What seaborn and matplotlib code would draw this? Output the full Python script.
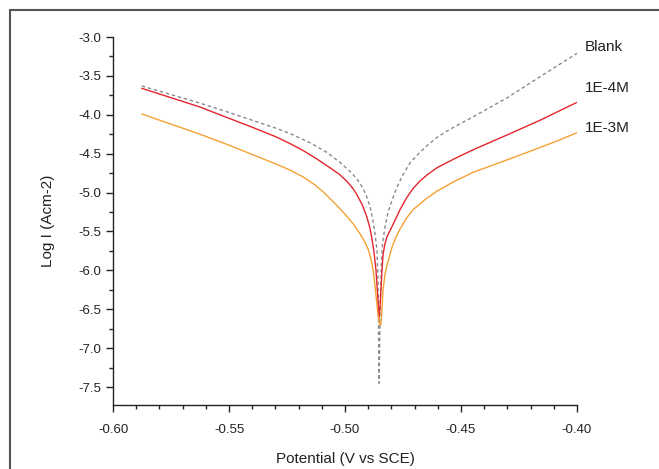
import numpy as np
import pandas as pd
import matplotlib
matplotlib.use('Agg')
import matplotlib.pyplot as plt
from matplotlib.ticker import MultipleLocator, FormatStrFormatter
from matplotlib.lines import Line2D
import seaborn as sns

# Tafel curves (potential in V vs SCE, log I)
blank_x = [-0.5876, -0.5750, -0.5625, -0.5500, -0.5400, -0.5300, -0.5237, -0.5150, -0.5080,
           -0.5022, -0.4970, -0.4935, -0.4910, -0.4892, -0.4880, -0.4871, -0.4862, -0.4858,
           -0.4856, -0.4853,
           -0.4849, -0.4846, -0.4843, -0.4838, -0.4828, -0.4815, -0.4795, -0.4776, -0.4750,
           -0.4720, -0.4680, -0.4640, -0.4603, -0.4550, -0.4500, -0.4450, -0.4300, -0.4159,
           -0.4000]
blank_y = [-3.63, -3.74, -3.85, -3.97, -4.07, -4.17, -4.24, -4.36, -4.48,
           -4.61, -4.75, -4.88, -5.02, -5.18, -5.35, -5.52, -5.74, -6.10,
           -6.47, -7.45,
           -6.60, -6.25, -5.90, -5.65, -5.45, -5.26, -5.08, -4.93, -4.77,
           -4.62, -4.49, -4.38, -4.29, -4.19, -4.11, -4.03, -3.78, -3.51,
           -3.21]

e4_x = [-0.5876, -0.5750, -0.5625, -0.5539, -0.5400, -0.5300, -0.5237, -0.5180, -0.5120,
        -0.5060, -0.5022, -0.4990, -0.4965, -0.4950, -0.4925, -0.4907, -0.4893, -0.4885,
        -0.4875, -0.4866, -0.4860, -0.4856, -0.4853,
        -0.4849, -0.4845, -0.4841, -0.4836, -0.4828, -0.4818, -0.4806, -0.4785, -0.4763,
        -0.4735, -0.4707, -0.4680, -0.4645, -0.4603, -0.4525, -0.4448, -0.4302, -0.4159,
        -0.4000]
e4_y = [-3.66, -3.78, -3.90, -4.00, -4.16, -4.28, -4.37, -4.46, -4.57,
        -4.69, -4.77, -4.86, -4.95, -5.02, -5.16, -5.30, -5.45, -5.57,
        -5.76, -6.01, -6.28, -6.48, -6.61,
        -6.47, -6.25, -6.03, -5.80, -5.66, -5.56, -5.49, -5.36, -5.22,
        -5.07, -4.95, -4.86, -4.77, -4.68, -4.56, -4.45, -4.26, -4.07,
        -3.84]

e3_x = [-0.5876, -0.5750, -0.5625, -0.5500, -0.5400, -0.5300, -0.5237, -0.5180, -0.5130,
        -0.5094, -0.5040, -0.4993, -0.4960, -0.4935, -0.4915, -0.4900, -0.4888, -0.4879,
        -0.4870, -0.4862, -0.4856, -0.4851, -0.4845,
        -0.4841, -0.4836, -0.4828, -0.4819, -0.4797, -0.4780, -0.4763, -0.4735, -0.4707,
        -0.4655, -0.4603, -0.4525, -0.4448, -0.4375, -0.4302, -0.4230, -0.4159, -0.4080,
        -0.4000]
e3_y = [-3.99, -4.12, -4.25, -4.39, -4.51, -4.63, -4.71, -4.80, -4.90,
        -4.99, -5.15, -5.30, -5.42, -5.53, -5.63, -5.73, -5.85, -5.99,
        -6.21, -6.45, -6.61, -6.69, -6.70,
        -6.52, -6.25, -6.06, -5.93, -5.70, -5.57, -5.47, -5.33, -5.22,
        -5.09, -4.98, -4.85, -4.74, -4.66, -4.58, -4.50, -4.42, -4.33,
        -4.23]

labels = ['Blank', '1E-4M', '1E-3M']
label_y = [-3.13, -3.66, -4.17]
colors = {'Blank': '#8a8a8a', '1E-4M': '#e3262e', '1E-3M': '#f5a033'}

df = pd.concat([
    pd.DataFrame({'E': blank_x, 'logI': blank_y, 'sample': 'Blank'}),
    pd.DataFrame({'E': e4_x, 'logI': e4_y, 'sample': '1E-4M'}),
    pd.DataFrame({'E': e3_x, 'logI': e3_y, 'sample': '1E-3M'}),
], ignore_index=True)

sns.set_style('ticks')
plt.rcParams['font.family'] = ['Liberation Sans', 'DejaVu Sans']

fig = plt.figure(figsize=(6.59, 4.69), dpi=100)
ax = fig.add_axes([0.1715, 0.1365, 0.704, 0.7846])

sns.lineplot(data=df, x='E', y='logI', hue='sample', style='sample',
             palette=colors, dashes={'Blank': (2.5, 2), '1E-4M': '', '1E-3M': ''},
             sort=False, estimator=None, units='sample', linewidth=1.0, legend=False, ax=ax)

for lab, yy in zip(labels, label_y):
    ax.text(-0.3965, yy, lab, fontsize=11, va='center', ha='left', color='#222222')

ax.set_xlim(-0.60, -0.40)
ax.set_ylim(-7.73, -3.0)
ax.xaxis.set_major_locator(MultipleLocator(0.05))
ax.xaxis.set_minor_locator(MultipleLocator(0.01))
ax.yaxis.set_major_locator(MultipleLocator(0.5))
ax.yaxis.set_minor_locator(MultipleLocator(0.25))
ax.xaxis.set_major_formatter(FormatStrFormatter('%.2f'))
ax.yaxis.set_major_formatter(FormatStrFormatter('%.1f'))
ax.tick_params(which='major', direction='out', length=5, width=1, labelsize=9.5, colors='#222222')
ax.tick_params(which='minor', direction='out', length=3, width=1, colors='#222222')
ax.tick_params(axis='x', which='major', pad=9)
ax.set_xlabel('Potential (V vs SCE)', fontsize=11, labelpad=11, color='#222222')
ax.set_ylabel('Log I (Acm-2)', fontsize=11, labelpad=17, color='#222222')
sns.despine(ax=ax)
for s in ['left', 'bottom']:
    ax.spines[s].set_color('#222222')
    ax.spines[s].set_linewidth(1)

# outer frame of the figure (top and left edges visible)
W, H = 659, 469
fig.add_artist(Line2D([10 / W, 1], [1 - 10 / H, 1 - 10 / H], transform=fig.transFigure,
                      color='#555555', lw=1.5))
fig.add_artist(Line2D([10 / W, 10 / W], [0, 1 - 10 / H], transform=fig.transFigure,
                      color='#555555', lw=1.5))

fig.savefig('out.png', dpi=100)
